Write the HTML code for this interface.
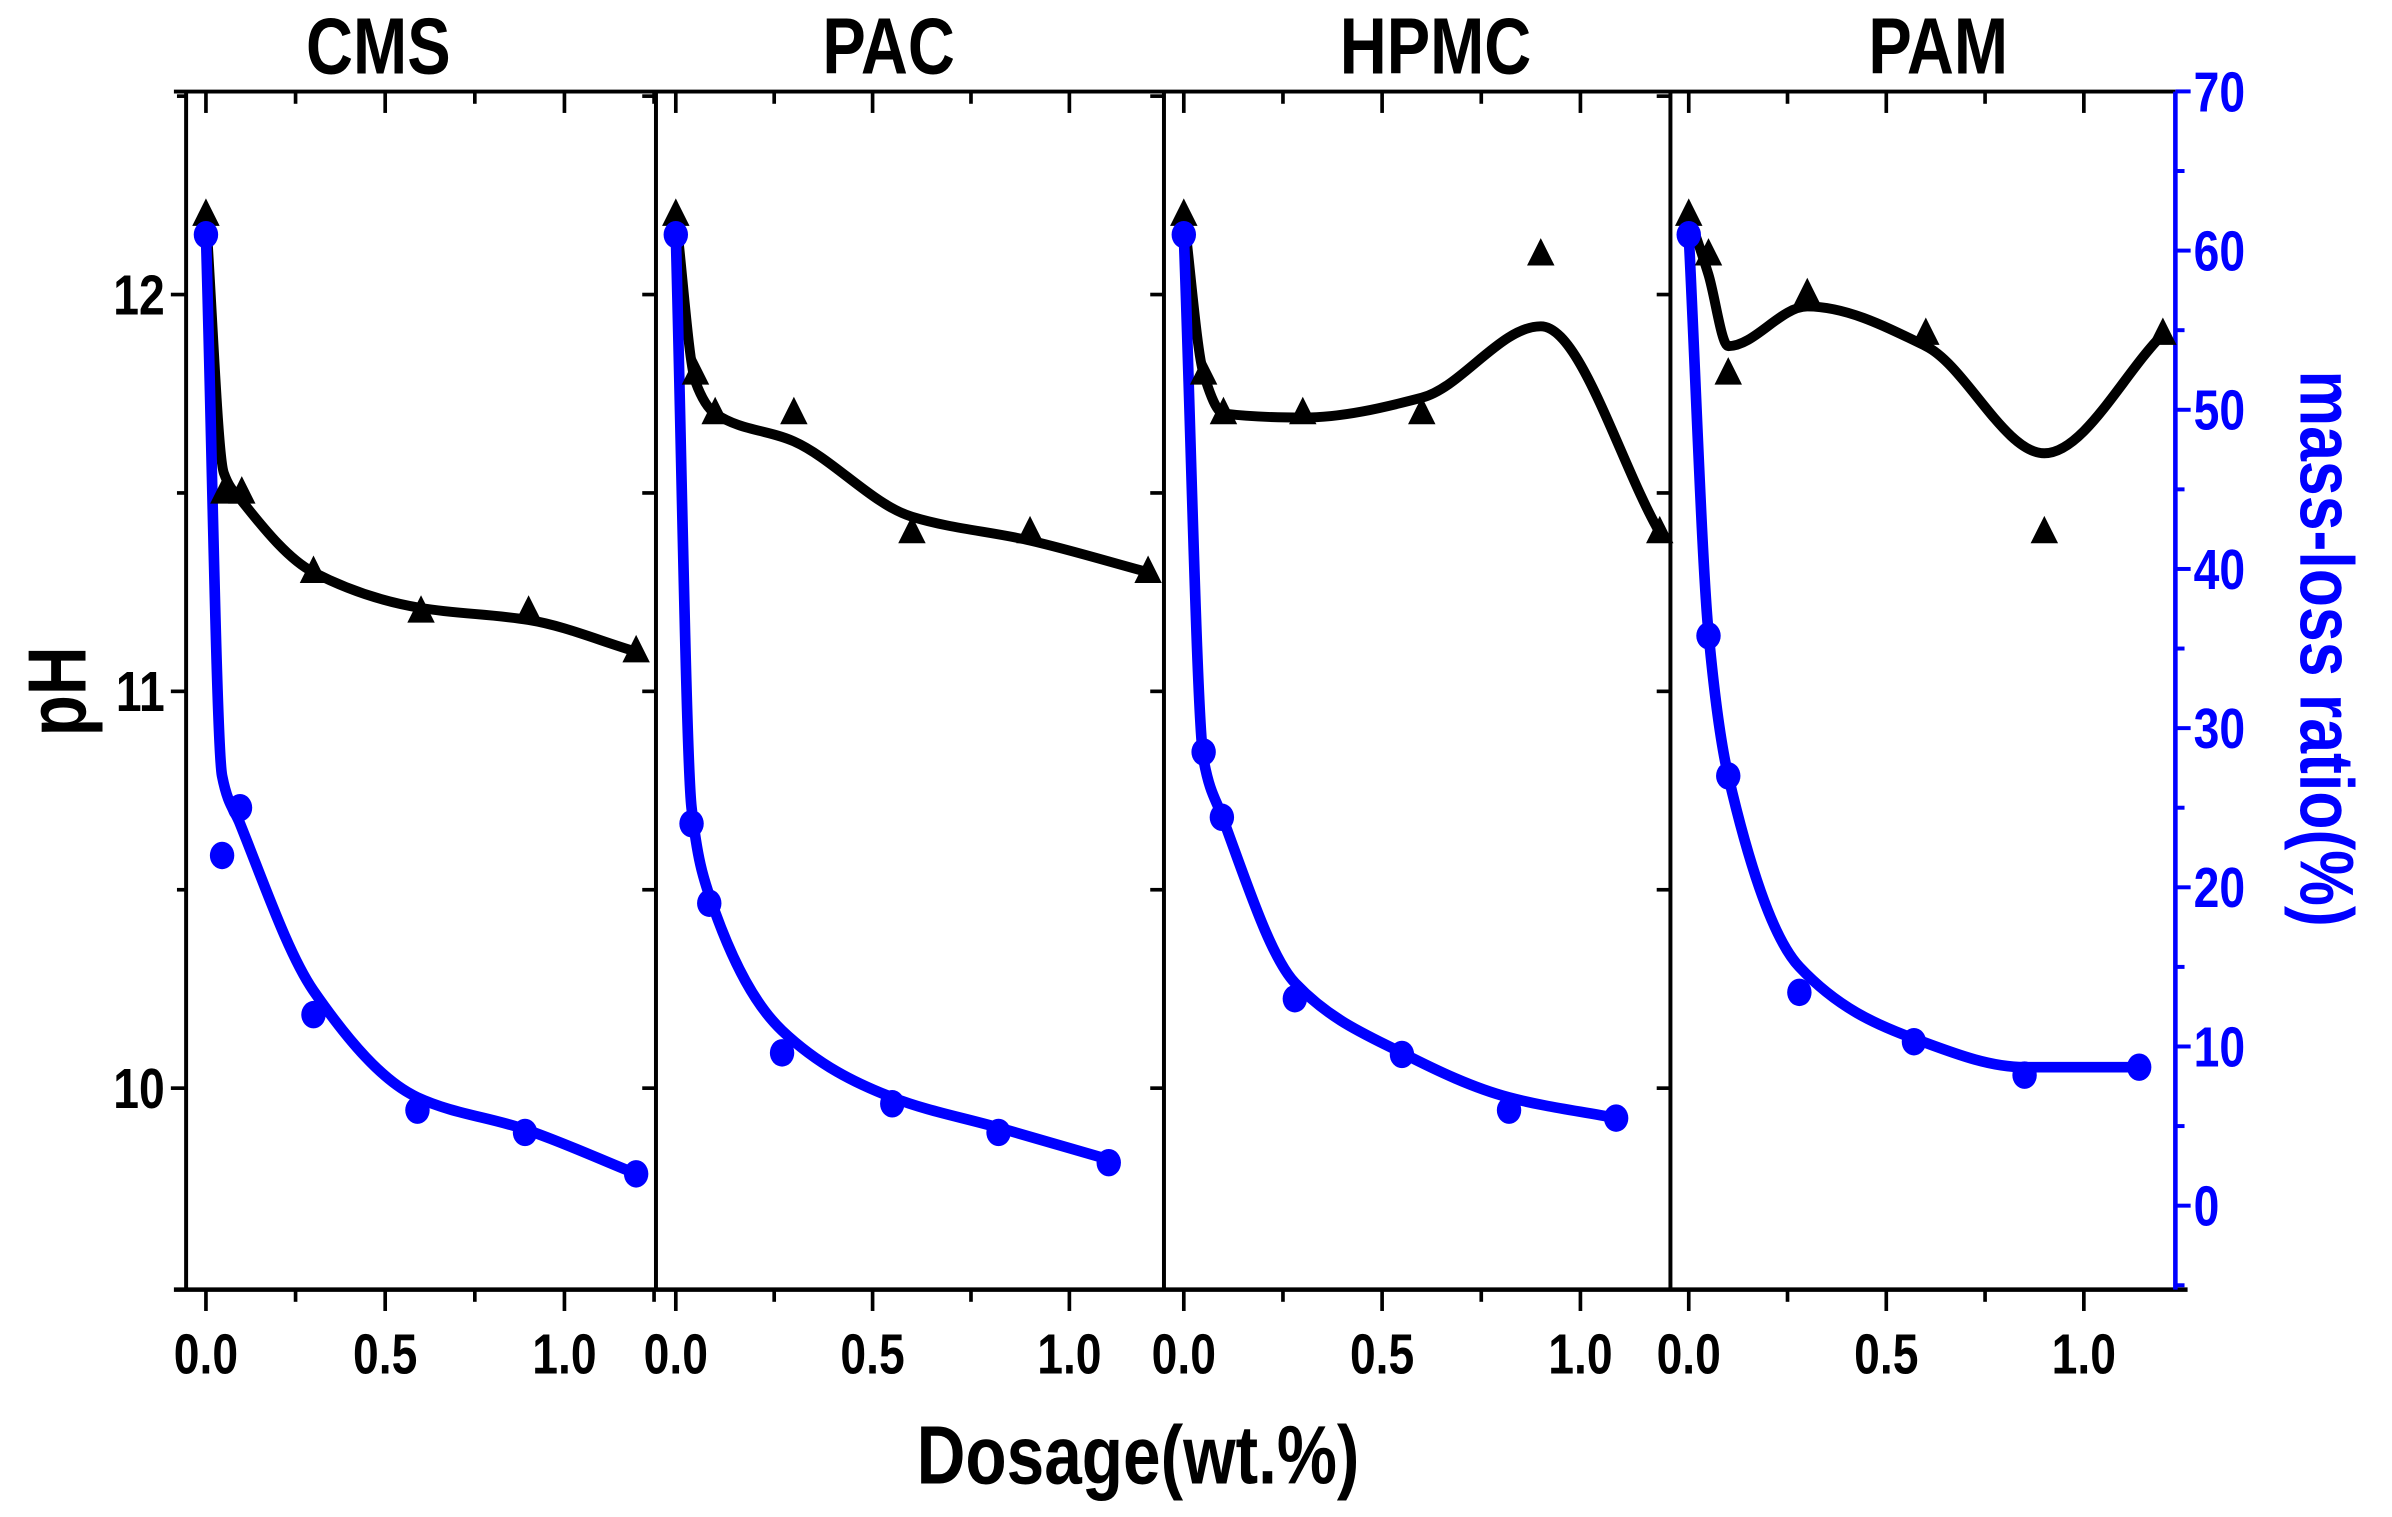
<!DOCTYPE html>
<html><head><meta charset="utf-8"><style>
html,body{margin:0;padding:0;background:#fff;}
svg{display:block;}
text{font-family:"Liberation Sans Narrow","Liberation Sans",Arial,sans-serif;font-weight:bold;}
</style></head><body>
<svg id="chart" width="2392" height="1517" viewBox="0 0 1568 994" preserveAspectRatio="none" xmlns="http://www.w3.org/2000/svg">
<rect x="0" y="0" width="1568" height="994" fill="#fff"/>
<g id="axes"></g>
<g id="marks"></g>
<g id="labels"></g>
</svg>
<script>
const panelNames = ["CMS","PAC","HPMC","PAM"];
const xTickLabels = ["0.0","0.5","1.0"];
const xTickValues = [0,0.5,1.0];
const phTickValues = [10,11,12];
const phTickLabels = ["10","11","12"];
const mlTickValues = [0,10,20,30,40,50,60,70];
const mlTickLabels = ["0","10","20","30","40","50","60","70"];

const phX_CMS = [0,0.05,0.1,0.3,0.6,0.9,1.2];
const ph_CMS = [12.2,11.5,11.5,11.3,11.2,11.2,11.1];
const phFit_CMS = [12.2,11.55,11.48,11.3,11.21,11.18,11.1];
const mlX_CMS = [0,0.045,0.095,0.3,0.59,0.89,1.2];
const ml_CMS = [61,22,25,12,6,4.6,2];
const mlFit_CMS = [61,27,24,13.5,6.8,4.8,2];

const phX_PAC = [0,0.05,0.1,0.3,0.6,0.9,1.2];
const ph_PAC = [12.2,11.8,11.7,11.7,11.4,11.4,11.3];
const phFit_PAC = [12.2,11.78,11.7,11.63,11.44,11.38,11.3];
const mlX_PAC = [0,0.04,0.085,0.27,0.55,0.82,1.1];
const ml_PAC = [61,24,19,9.6,6.4,4.6,2.7];
const mlFit_PAC = [61,25,19.5,11,6.8,4.9,2.9];

const phX_HPMC = [0,0.05,0.1,0.3,0.6,0.9,1.2];
const ph_HPMC = [12.2,11.8,11.7,11.7,11.7,12.1,11.4];
const phFit_HPMC = [12.2,11.8,11.7,11.69,11.74,11.92,11.4];
const mlX_HPMC = [0,0.05,0.096,0.28,0.55,0.82,1.09];
const ml_HPMC = [61,28.5,24.4,13,9.5,6,5.5];
const mlFit_HPMC = [61,28,24.5,14,9.6,6.8,5.5];

const phX_PAM = [0,0.05,0.1,0.3,0.6,0.9,1.2];
const ph_PAM = [12.2,12.1,11.8,12.0,11.9,11.4,11.9];
const phFit_PAM = [12.2,12.05,11.87,11.97,11.87,11.6,11.9];
const mlX_PAM = [0,0.05,0.1,0.28,0.57,0.85,1.14];
const ml_PAM = [61,35.8,27,13.4,10.3,8.2,8.7];
const mlFit_PAM = [61,36,27,15,10.5,8.7,8.7];

const panels = [
 {name:"CMS", l:122, r:430, x0:135, k:235, phX:phX_CMS, ph:ph_CMS, phFit:phFit_CMS, mlX:mlX_CMS, ml:ml_CMS, mlFit:mlFit_CMS},
 {name:"PAC", l:430, r:763, x0:443, k:258, phX:phX_PAC, ph:ph_PAC, phFit:phFit_PAC, mlX:mlX_PAC, ml:ml_PAC, mlFit:mlFit_PAC},
 {name:"HPMC", l:763, r:1095, x0:776, k:260, phX:phX_HPMC, ph:ph_HPMC, phFit:phFit_HPMC, mlX:mlX_HPMC, ml:ml_HPMC, mlFit:mlFit_HPMC},
 {name:"PAM", l:1095, r:1426, x0:1107, k:259, phX:phX_PAM, ph:ph_PAM, phFit:phFit_PAM, mlX:mlX_PAM, ml:ml_PAM, mlFit:mlFit_PAM}
];
const TOP=60, BOT=845, LEFT=122, RIGHT=1426;
const SX=0.82;
function yPH(v){return 193+(12-v)*260;}
function yML(v){return 790-v*10.43;}
const NS="http://www.w3.org/2000/svg";
function mk(tag,attrs,parent,txt){const e=document.createElementNS(NS,tag);for(const k in attrs)e.setAttribute(k,attrs[k]);if(txt!==undefined)e.textContent=txt;parent.appendChild(e);return e;}
function txt(x,y,anchor,size,fill,s,rot){
 const t=mk('text',{x:0,y:0,'text-anchor':anchor,'font-size':size,fill:fill,transform:'translate('+x+','+y+')'+(rot?' rotate('+rot+')':'')+' scale('+SX+',1)'},labels,s);
 return t;
}
const axes=document.getElementById('axes'), marks=document.getElementById('marks'), labels=document.getElementById('labels');

function monotonePath(xs,ys){
 const n=xs.length, d=[], m=[];
 for(let i=0;i<n-1;i++){d.push((ys[i+1]-ys[i])/(xs[i+1]-xs[i]));}
 for(let i=0;i<n;i++){
  if(i===0)m.push(d[0]);else if(i===n-1)m.push(d[n-2]);
  else{ if(d[i-1]*d[i]<=0)m.push(0); else { const h0=xs[i]-xs[i-1],h1=xs[i+1]-xs[i]; m.push(3*(h0+h1)/((2*h1+h0)/d[i-1]+(h1+2*h0)/d[i])); } }
 }
 let p="M"+xs[0]+","+ys[0];
 for(let i=0;i<n-1;i++){const h=(xs[i+1]-xs[i])/3;
  p+=" C"+(xs[i]+h)+","+(ys[i]+m[i]*h)+" "+(xs[i+1]-h)+","+(ys[i+1]-m[i+1]*h)+" "+xs[i+1]+","+ys[i+1];}
 return p;
}

let e;
e=mk('line',{x1:LEFT-8,y1:TOP,x2:RIGHT,y2:TOP,stroke:'#000','stroke-width':2.6},axes);

e=mk('line',{x1:LEFT-8,y1:BOT,x2:RIGHT+8,y2:BOT,stroke:'#000','stroke-width':3},axes);

e=mk('line',{x1:LEFT,y1:TOP,x2:LEFT,y2:BOT,stroke:'#000','stroke-width':2.6},axes);

e=mk('line',{x1:RIGHT,y1:TOP,x2:RIGHT,y2:BOT,stroke:'#0000ff','stroke-width':3},axes);


for(let v=10;v<=12.5;v+=0.5){
 const y=yPH(v), major=Number.isInteger(v);
 e=mk('line',{x1:LEFT-(major?10:6),y1:y,x2:LEFT,y2:y,stroke:'#000','stroke-width':2.4},axes);
 
 panels.slice(1).forEach(p=>{
  e=mk('line',{x1:p.l-9,y1:y,x2:p.l,y2:y,stroke:'#000','stroke-width':2.4},axes);
  
 });
}
phTickValues.forEach((v,i)=>{
 e=txt(LEFT-14,yPH(v)+13,'end',37,'#000',phTickLabels[i]);
 
});
for(let v=-5;v<=70;v+=5){
 const y=yML(v), major=v%10===0;
 e=mk('line',{x1:RIGHT,y1:y,x2:RIGHT+(major?10:6),y2:y,stroke:'#0000ff','stroke-width':2.6},axes);
 
}
mlTickValues.forEach((v,i)=>{
 e=txt(RIGHT+12,yML(v)+13,'start',37,'#0000ff',mlTickLabels[i]);
 
});

panels.forEach((p,pi)=>{
 const X=v=>p.x0+v*p.k;
 if(pi>0){
  e=mk('line',{x1:p.l,y1:TOP,x2:p.l,y2:BOT,stroke:'#000','stroke-width':2.6},axes);
  
 }
 for(let v=0;v<=1.25;v+=0.25){
  const x=X(v); if(x>p.r+1)continue;
  const major=Math.abs(v*2-Math.round(v*2))<1e-6;
  e=mk('line',{x1:x,y1:BOT,x2:x,y2:BOT+(major?14:8),stroke:'#000','stroke-width':2.4},axes);
  
  e=mk('line',{x1:x,y1:TOP,x2:x,y2:TOP+(major?14:8),stroke:'#000','stroke-width':2.4},axes);
  
 }
 xTickValues.forEach((v,i)=>{
  e=txt(X(v),900,'middle',37,'#000',xTickLabels[i]);
  
 });
 e=txt((p.l+p.r)/2+(pi===0?-28:pi===1?-14:pi===2?12:10),48,'middle',52,'#000',panelNames[pi]);
 

 e=mk('path',{d:monotonePath(p.phX.map(X),p.phFit.map(yPH)),fill:'none',stroke:'#000','stroke-width':6.5,'stroke-linejoin':'round','stroke-linecap':'round'},marks);
 
 e=mk('path',{d:monotonePath(p.mlX.map(X),p.mlFit.map(yML)),fill:'none',stroke:'#0000ff','stroke-width':7,'stroke-linejoin':'round','stroke-linecap':'round'},marks);
 
 p.phX.forEach((xv,i)=>{
  const cx=X(xv), cy=yPH(p.ph[i]);
  e=mk('polygon',{points:(cx-9)+","+(cy+7)+" "+(cx+9)+","+(cy+7)+" "+cx+","+(cy-11),fill:'#000'},marks);
  
 });
 p.mlX.forEach((xv,i)=>{
  e=mk('ellipse',{cx:X(xv),cy:yML(p.ml[i]),rx:8,ry:9,fill:'#0000ff'},marks);
  
 });
});

e=txt(746,972,'middle',54,'#000','Dosage(wt.%)');

e=txt(56,453,'middle',54,'#000','pH',-90);

e=txt(1508,425,'middle',50,'#0000ff','mass-loss ratio(%)',90);

</script>
</body></html>
